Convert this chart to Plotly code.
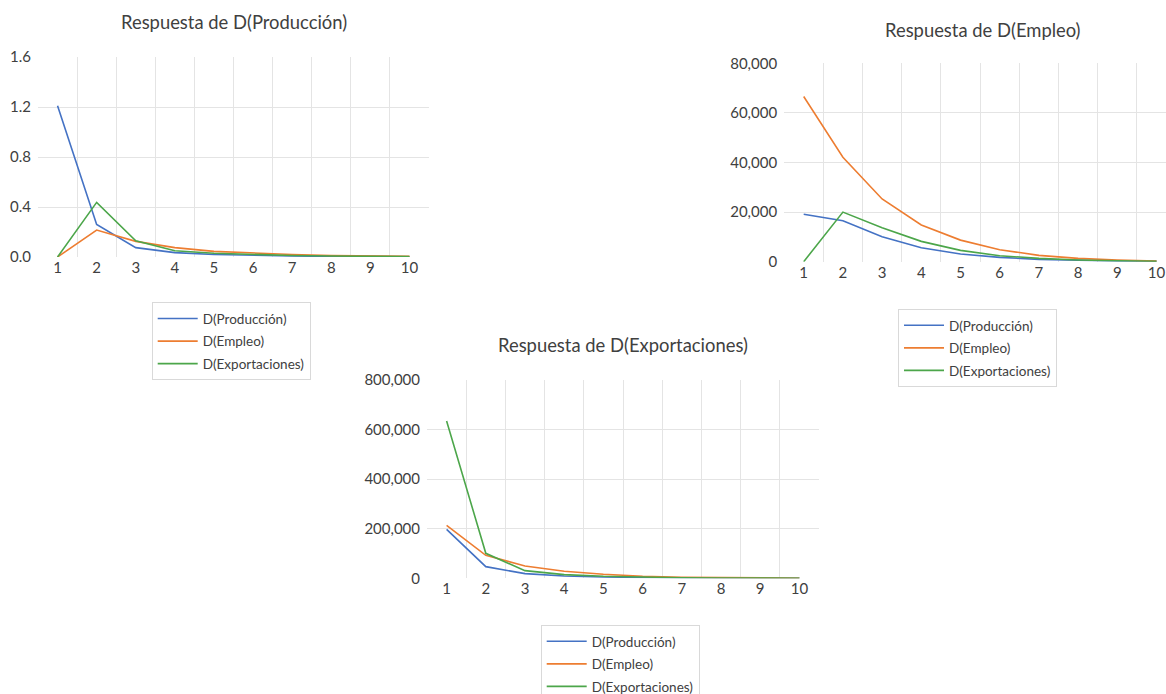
import plotly.graph_objects as go

# Horizon (periods) shared by all three impulse-response panels
periods = [1, 2, 3, 4, 5, 6, 7, 8, 9, 10]
series_names = ["D(Producción)", "D(Empleo)", "D(Exportaciones)"]
colors = ["#4472C4", "#ED7D31", "#4CA64A"]

# Respuesta de D(Producción)
prod_prod = [1.21, 0.26, 0.075, 0.035, 0.02, 0.012, 0.008, 0.005, 0.003, 0.002]
prod_emp = [0.0, 0.216, 0.125, 0.075, 0.045, 0.03, 0.02, 0.012, 0.008, 0.005]
prod_exp = [0.0, 0.437, 0.13, 0.05, 0.03, 0.02, 0.012, 0.008, 0.005, 0.003]

# Respuesta de D(Empleo)
emp_prod = [19100, 16500, 10100, 5650, 3100, 1750, 940, 540, 300, 200]
emp_emp = [66600, 42100, 25300, 14800, 8700, 4850, 2550, 1350, 700, 300]
emp_exp = [0, 20000, 13700, 8200, 4570, 2420, 1350, 700, 400, 200]

# Respuesta de D(Exportaciones)
exp_prod = [197600, 47000, 18800, 9400, 5400, 2500, 1200, 600, 300, 150]
exp_emp = [213800, 92800, 49700, 28200, 16100, 8000, 4000, 2000, 1000, 500]
exp_exp = [634600, 100800, 30900, 14800, 8000, 4000, 2000, 1000, 500, 300]

titles = ["Respuesta de D(Producción)", "Respuesta de D(Empleo)",
          "Respuesta de D(Exportaciones)"]

W, H = 1166, 694
FONT = "Lato, 'Open Sans', sans-serif"
TXT = "#404040"
GRID = "#E4E4E4"

panels = [
    dict(data=[prod_prod, prod_emp, prod_exp], xa="x", ya="y", legend="legend",
         xpx=(38, 429), ypx=(57, 257), xrange=[0.5, 10.5],
         yrange=[0, 1.6], dtick=0.4, fmt=".1f", title_y=22),
    dict(data=[emp_prod, emp_emp, emp_exp], xa="x2", ya="y2", legend="legend2",
         xpx=(784.1, 1166), ypx=(63.3, 261.7), xrange=[0.5, 10.242],
         yrange=[0, 80000], dtick=20000, fmt=",.0f", title_y=30,
         title_cx=983),
    dict(data=[exp_prod, exp_emp, exp_exp], xa="x3", ya="y3", legend="legend3",
         xpx=(427, 819), ypx=(380, 578.3), xrange=[0.5, 10.5],
         yrange=[0, 800000], dtick=200000, fmt=",.0f", title_y=345),
]

fig = go.Figure()
layout = dict(
    width=W, height=H,
    margin=dict(l=0, r=0, t=0, b=0, autoexpand=False),
    paper_bgcolor="white", plot_bgcolor="white",
    font=dict(family=FONT, color=TXT, size=15),
    annotations=[],
)

legend_pos = [(151.7, 302.3), (898, 309), (540.7, 625)]

for i, p in enumerate(panels):
    for j, name in enumerate(series_names):
        fig.add_trace(go.Scatter(
            x=periods, y=p["data"][j], mode="lines", name=name,
            line=dict(color=colors[j], width=1.6),
            xaxis=p["xa"], yaxis=p["ya"], legend=p["legend"],
            legendgroup=f"p{i}s{j}",
        ))
    x0, x1 = p["xpx"]
    y0, y1 = p["ypx"]
    suffix = "" if i == 0 else str(i + 1)
    layout["xaxis" + suffix] = dict(
        domain=[x0 / W, x1 / W], range=p["xrange"], anchor="y" + suffix,
        tickmode="array", tickvals=periods, ticktext=[str(v) for v in periods],
        showgrid=False, zeroline=False, showline=False, ticks="",
        tickfont=dict(size=15, color=TXT), automargin=False,
        minor=dict(tickmode="array", tickvals=[k + 0.5 for k in range(1, 10)],
                   showgrid=True, gridcolor=GRID, gridwidth=1, ticks=""),
        fixedrange=True,
    )
    layout["yaxis" + suffix] = dict(
        domain=[(H - y1) / H, (H - y0) / H], range=p["yrange"],
        anchor="x" + suffix, dtick=p["dtick"], tick0=0, tickformat=p["fmt"],
        showgrid=True, gridcolor=GRID, gridwidth=1, zeroline=False,
        showline=False, ticks="", ticklabelstandoff=6, automargin=False,
        tickfont=dict(size=15, color=TXT), fixedrange=True,
    )
    cx = p.get("title_cx", (x0 + x1) / 2)
    layout["annotations"].append(dict(
        text=titles[i], xref="paper", yref="paper", x=cx / W,
        y=(H - p["title_y"]) / H, xanchor="center", yanchor="middle",
        showarrow=False, font=dict(size=18.4, color=TXT, family=FONT),
    ))
    lx, ly = legend_pos[i]
    layout[p["legend"]] = dict(
        x=lx / W, y=(H - ly) / H, xanchor="left", yanchor="top",
        bordercolor="#D9D9D9", borderwidth=1, bgcolor="white",
        font=dict(size=13.5, color=TXT, family=FONT),
        itemwidth=40, tracegroupgap=2,
    )

fig.update_layout(**layout)
fig.write_html("out.html")
